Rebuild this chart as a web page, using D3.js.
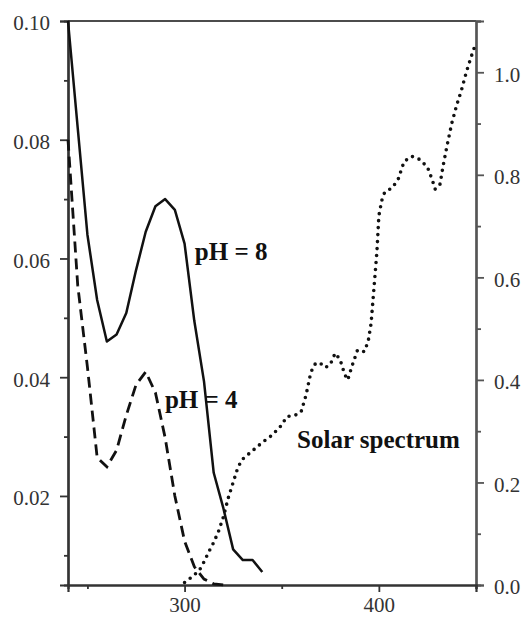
<!DOCTYPE html>
<html>
<head>
<meta charset="utf-8">
<script src="https://cdn.jsdelivr.net/npm/d3@7"></script>
<style>
  html, body { margin: 0; padding: 0; background: #fff; }
  svg { display: block; }
</style>
</head>
<body>
<script>
// Wavelength grid (nm) for the two absorbance curves
const wavelength = [240, 245, 250, 255, 260, 265, 270, 275, 280, 285, 290, 295, 300, 305, 310, 315, 320, 325, 330, 335, 340];
// Absorbance at pH 8 (solid)
const absPH8 = [0.100, 0.082, 0.064, 0.053, 0.046, 0.0472, 0.0508, 0.058, 0.0645, 0.0688, 0.0700, 0.0682, 0.0625, 0.0495, 0.0393, 0.0239, 0.0179, 0.0110, 0.0092, 0.0092, 0.0072];

// Absorbance at pH 4 (dashed)
const wavelengthPH4 = [240, 245, 250, 255, 260, 265, 270, 275, 280, 285, 290, 295, 300, 305, 310, 315, 320];
const absPH4 = [0.080, 0.0555, 0.0417, 0.0265, 0.0249, 0.0277, 0.0336, 0.0387, 0.0409, 0.0374, 0.0298, 0.0200, 0.0124, 0.0081, 0.0060, 0.0052, 0.0050];

// Relative solar irradiance (dotted, right axis)
const solarWavelength = [300, 302.5, 305, 307.5, 310, 312.5, 315, 317.5, 320, 322.5, 325, 327.5, 330, 335, 340, 345, 350, 352.5, 357.5, 360, 362.5, 365, 367.5, 370, 372.5, 375, 377.5, 380, 382.5, 384, 386, 389, 392.5, 394.5, 396, 397.5, 399, 400, 401.5, 403, 407, 410, 413, 417, 421, 425, 427.5, 429, 431.5, 433, 435, 437.5, 440, 442.5, 445, 447.5, 449.5];
const solarIrradiance = [0.005, 0.012, 0.02, 0.028, 0.045, 0.065, 0.083, 0.105, 0.133, 0.17, 0.2, 0.23, 0.246, 0.262, 0.278, 0.292, 0.312, 0.328, 0.332, 0.338, 0.37, 0.415, 0.433, 0.432, 0.424, 0.43, 0.452, 0.44, 0.41, 0.40, 0.425, 0.458, 0.455, 0.475, 0.51, 0.58, 0.65, 0.72, 0.75, 0.766, 0.775, 0.792, 0.826, 0.836, 0.83, 0.815, 0.79, 0.772, 0.782, 0.816, 0.855, 0.9, 0.935, 0.965, 1.0, 1.03, 1.052];

// Tick values
const xMajorTicks = [300, 400];
const xMinorTicks = [250, 350, 450];
const leftMajorTicks = [0.02, 0.04, 0.06, 0.08, 0.10];
const leftMinorTicks = [0.01, 0.03, 0.05, 0.07, 0.09];
const rightMajorTicks = [0.0, 0.2, 0.4, 0.6, 0.8, 1.0];
const rightMinorTicks = [0.1, 0.3, 0.5, 0.7, 0.9, 1.1];

// Curve labels: text, wavelength, value, which axis
const labelText = ["pH = 8", "pH = 4", "Solar spectrum"];
const labelWavelength = [305.3, 289.9, 357.9];
const labelValue = [0.0597, 0.0348, 0.2676];
const labelAxis = ["left", "left", "right"];

const SERIF = '"Liberation Serif", "Times New Roman", Times, serif';

const W = 527, H = 617;
const margin = { top: 21, right: 51, bottom: 32, left: 68 };

const svg = d3.select("body").append("svg").attr("width", W).attr("height", H);

const x = d3.scaleLinear().domain([240, 450]).range([margin.left, W - margin.right]);
const yL = d3.scaleLinear().domain([0.005, 0.10]).range([H - margin.bottom, margin.top]);
const yR = d3.scaleLinear().domain([0, 1.1]).range([H - margin.bottom, margin.top]);

// Top frame line
svg.append("line")
  .attr("x1", x(240)).attr("x2", x(450))
  .attr("y1", yL(0.10)).attr("y2", yL(0.10))
  .attr("stroke", "#111").attr("stroke-width", 1.6);

function styleAxis(g, color) {
  g.attr("font-family", SERIF).attr("font-size", 21);
  g.select(".domain").attr("stroke", color).attr("stroke-width", 2.2);
  g.selectAll(".tick line").attr("stroke", color).attr("stroke-width", 1.8);
  g.selectAll(".tick text")
    .style("font-family", SERIF)
    .style("font-size", "21px")
    .attr("fill", "#333");
}

// Left axis
svg.append("g").attr("transform", `translate(${margin.left},0)`)
  .call(d3.axisLeft(yL).tickValues(leftMinorTicks).tickSize(4).tickFormat(""))
  .call(g => styleAxis(g, "#333"));
svg.append("g").attr("transform", `translate(${margin.left},0)`)
  .call(d3.axisLeft(yL).tickValues(leftMajorTicks).tickSize(8).tickPadding(10).tickFormat(d3.format(".2f")))
  .call(g => styleAxis(g, "#333"))
  .call(g => g.selectAll(".tick text").attr("dy", "0.42em"));

// Right axis
svg.append("g").attr("transform", `translate(${W - margin.right},0)`)
  .call(d3.axisRight(yR).tickValues(rightMinorTicks).tickSize(5).tickFormat(""))
  .call(g => styleAxis(g, "#555"));
svg.append("g").attr("transform", `translate(${W - margin.right},0)`)
  .call(d3.axisRight(yR).tickValues(rightMajorTicks).tickSize(8).tickPadding(10).tickFormat(d3.format(".1f")))
  .call(g => styleAxis(g, "#555"))
  .call(g => g.selectAll(".tick text").attr("dy", "0.42em"));

// Bottom axis
svg.append("g").attr("transform", `translate(0,${H - margin.bottom})`)
  .call(d3.axisBottom(x).tickValues(xMinorTicks).tickSize(4).tickFormat(""))
  .call(g => styleAxis(g, "#333"));
svg.append("g").attr("transform", `translate(0,${H - margin.bottom})`)
  .call(d3.axisBottom(x).tickValues(xMajorTicks).tickSize(7).tickPadding(6).tickFormat(d3.format("d")))
  .call(g => styleAxis(g, "#333"))
  .call(g => g.selectAll(".tick text").attr("dy", "0.66em"));

// Solar spectrum (dotted)
const solarLine = d3.line().x((d, i) => x(solarWavelength[i])).y(d => yR(d));
svg.append("path")
  .datum(solarIrradiance)
  .attr("d", solarLine)
  .attr("fill", "none")
  .attr("stroke", "#111")
  .attr("stroke-width", 3.6)
  .attr("stroke-linecap", "round")
  .attr("stroke-dasharray", "0 7");

// pH 4 absorbance (dashed)
const ph4Line = d3.line().x((d, i) => x(wavelengthPH4[i])).y(d => yL(d));
svg.append("path")
  .datum(absPH4)
  .attr("d", ph4Line)
  .attr("fill", "none")
  .attr("stroke", "#111")
  .attr("stroke-width", 2.8)
  .attr("stroke-dasharray", "11 6");

// pH 8 absorbance (solid)
const ph8Line = d3.line().x((d, i) => x(wavelength[i])).y(d => yL(d));
svg.append("path")
  .datum(absPH8)
  .attr("d", ph8Line)
  .attr("fill", "none")
  .attr("stroke", "#111")
  .attr("stroke-width", 2.5)
  .attr("stroke-linejoin", "round");

// Curve labels
svg.selectAll("text.label")
  .data(labelText)
  .join("text")
  .attr("class", "label")
  .attr("x", (d, i) => x(labelWavelength[i]))
  .attr("y", (d, i) => labelAxis[i] === "left" ? yL(labelValue[i]) : yR(labelValue[i]))
  .style("font-family", SERIF)
  .style("font-size", "25px")
  .style("font-weight", "bold")
  .attr("fill", "#111")
  .text(d => d);
</script>
</body>
</html>
